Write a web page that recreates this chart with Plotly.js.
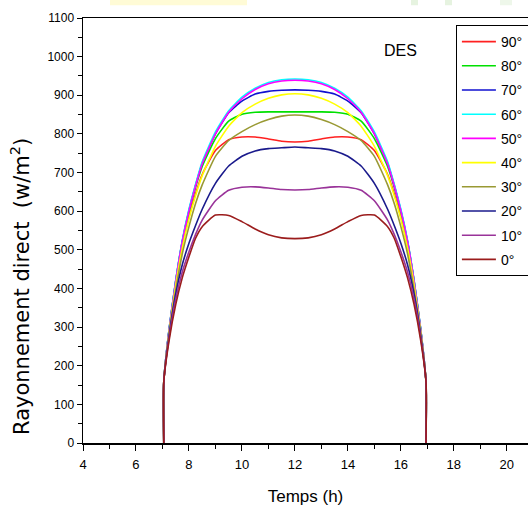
<!DOCTYPE html>
<html>
<head>
<meta charset="utf-8">
<script src="https://cdn.plot.ly/plotly-3.0.1.min.js"></script>
<style>html,body{margin:0;padding:0;background:#fff;}#chart{width:528px;height:506px;}</style>
</head>
<body>
<div id="chart"></div>
<script>
// Time (h)
const temps = [7.05, 7.05, 7.25, 7.5, 7.75, 8, 8.25, 8.5, 9, 9.5, 10, 10.5, 11, 11.5, 12,
               12.5, 13, 13.5, 14, 14.5, 15, 15.5, 15.75, 16, 16.25, 16.5, 16.75, 16.95, 16.95];

// Direct radiation (W/m2) per tilt angle
const r90 = [0,158,290,412,510,585,645,695,757,785,792,792,787,781,779, 781,787,792,792,785,757,695,645,585,510,412,290,158,0];
const r80 = [0,158,293,418,520,598,662,716,788,833,851,856,857,857,857, 857,857,856,851,833,788,716,662,598,520,418,293,158,0];
const r70 = [0,158,295,420,523,602,667,724,800,855,885,903,910,913,914, 913,910,903,885,855,800,724,667,602,523,420,295,158,0];
const r60 = [0,158,295,420,525,605,670,728,805,860,895,918,933,940,942, 940,933,918,895,860,805,728,670,605,525,420,295,158,0];
const r50 = [0,158,293,418,522,600,665,722,800,856,891,915,930,937,939, 937,930,915,891,856,800,722,665,600,522,418,293,158,0];
const r40 = [0,158,288,408,505,580,640,692,768,820,855,877,892,901,904, 901,892,877,855,820,768,692,640,580,505,408,288,158,0];
const r30 = [0,158,282,395,490,560,620,668,742,783,806,824,837,846,849, 846,837,824,806,783,742,668,620,560,490,395,282,158,0];
const r20 = [0,158,278,385,462,517,563,605,672,717,742,756,762,764,766, 764,762,756,742,717,672,605,563,517,462,385,278,158,0];
const r10 = [0,158,272,372,443,495,540,577,627,654,662,663,660,656,655, 656,660,663,662,654,627,577,540,495,443,372,272,158,0];
const r0  = [0,158,265,358,428,482,530,560,590,589,573,554,539,531,529, 531,539,554,573,589,590,560,530,482,428,358,265,158,0];

const names = ['90°','80°','70°','60°','50°','40°','30°','20°','10°','0°'];
const series = [r90, r80, r70, r60, r50, r40, r30, r20, r10, r0];
const colors = ['#ff2020','#00e000','#1010d0','#00ffff','#ff00ff','#ffff00','#999933','#1a1a8c','#993399','#9b1c1c'];

const traces = series.map((ys, i) => ({
  x: temps, y: ys, name: names[i], legendgroup: 'g' + i,
  type: 'scatter', mode: 'lines',
  line: {color: colors[i], width: 1.6, shape: 'spline', smoothing: 0.5}
}));

const font = {family: 'Liberation Sans Narrow, Liberation Sans, Arial, sans-serif', color: '#000'};

const layout = {
  width: 528, height: 506,
  margin: {l: 83, r: 0, t: 18, b: 63, autoexpand: false},
  paper_bgcolor: '#fff', plot_bgcolor: '#fff',
  showlegend: true,
  legend: {
    x: 0.838, y: 0.9835, xanchor: 'left', yanchor: 'top',
    bgcolor: '#fff', bordercolor: '#000', borderwidth: 1,
    font: Object.assign({size: 14}, font),
    tracegroupgap: 3, itemwidth: 34
  },
  xaxis: {
    range: [4, 20.8], tick0: 4, dtick: 2, ticks: 'outside', ticklen: 6, tickwidth: 1, tickcolor: '#000',
    showline: true, linecolor: '#000', linewidth: 1.5, mirror: true,
    showgrid: false, zeroline: false, ticklabelstandoff: 3,
    minor: {ticks: 'outside', ticklen: 4, tick0: 4, dtick: 1, tickcolor: '#000', showgrid: false},
    tickfont: Object.assign({size: 13}, font),
    title: {text: 'Temps (h)', font: Object.assign({size: 17}, font), standoff: 20}
  },
  yaxis: {
    range: [0, 1100], tick0: 0, dtick: 100, ticks: 'outside', ticklen: 5, tickwidth: 1, tickcolor: '#000',
    showline: true, linecolor: '#000', linewidth: 1.5, mirror: false,
    showgrid: false, zeroline: false,
    minor: {ticks: 'outside', ticklen: 4, dtick: 50, tickcolor: '#000', showgrid: false},
    tickfont: Object.assign({size: 12}, font)
  },
  annotations: [
    {
      x: 16, y: 1015, xref: 'x', yref: 'y', text: 'DES', showarrow: false,
      font: Object.assign({size: 16}, font)
    },
    {
      x: (20 - 83) / 445, y: (443 - 287) / 425, xref: 'paper', yref: 'paper',
      xanchor: 'center', yanchor: 'middle', textangle: -90, showarrow: false,
      text: 'Rayonnement direct  (w/m<sup>2</sup>)',
      font: {family: 'DejaVu Sans, Verdana, sans-serif', size: 21, color: '#000'}
    }
  ],
  shapes: [
    {type: 'rect', xref: 'paper', yref: 'paper', x0: (110-83)/445, x1: (247-83)/445, y0: 1.030, y1: 1.045, fillcolor: '#fffbd6', line: {width: 0}},
    {type: 'rect', xref: 'paper', yref: 'paper', x0: (411-83)/445, x1: (418-83)/445, y0: 1.030, y1: 1.045, fillcolor: '#e6f3e0', line: {width: 0}},
    {type: 'rect', xref: 'paper', yref: 'paper', x0: (445-83)/445, x1: (452-83)/445, y0: 1.030, y1: 1.045, fillcolor: '#e6f3e0', line: {width: 0}},
    {type: 'rect', xref: 'paper', yref: 'paper', x0: (500-83)/445, x1: (512-83)/445, y0: 1.030, y1: 1.045, fillcolor: '#eef7ea', line: {width: 0}}
  ]
};

Plotly.newPlot('chart', traces, layout, {displayModeBar: false, staticPlot: true});
</script>
</body>
</html>
